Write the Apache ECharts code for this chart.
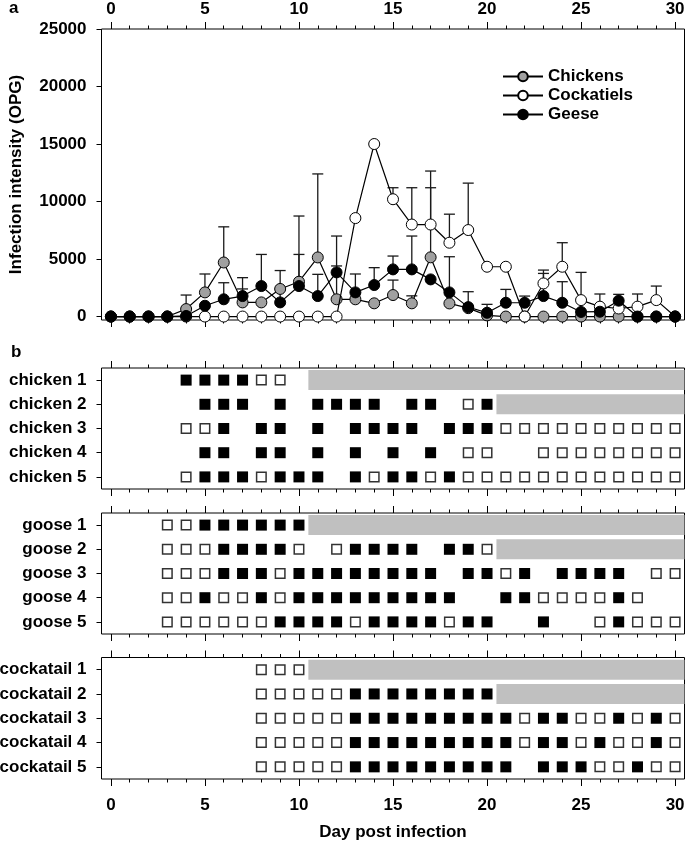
<!DOCTYPE html>
<html><head><meta charset="utf-8">
<script src="https://cdn.jsdelivr.net/npm/echarts@6/dist/echarts.min.js"></script>
<style>html,body{margin:0;padding:0;background:#fff}#c{width:685px;height:842px}</style>
</head><body><div id="c"></div>
<script>
// ---------------- DATA ----------------
const days = [0,1,2,3,4,5,6,7,8,9,10,11,12,13,14,15,16,17,18,19,20,21,22,23,24,25,26,27,28,29,30];
const xTickLabels = [0,5,10,15,20,25,30];
const yTickLabels = [0,5000,10000,15000,20000,25000];

// Panel a: mean OPG and upper error-bar end (null = no visible bar)
const chickenMean  = [0,0,0,0,650,2100,4700,1230,1230,2400,3030,5140,1500,1500,1150,1870,1150,5150,1140,730,100,0,0,0,0,0,0,0,0,0,0];
const chickenUpper = [null,null,null,null,1870,3700,7800,2400,null,4000,8740,12400,4400,null,null,3170,1800,11200,null,null,null,null,null,null,null,null,null,null,null,null,null];
const cockatielMean  = [0,0,0,0,0,0,0,0,0,0,0,0,0,8560,15000,10200,8000,8000,6420,7520,4330,4330,0,2880,4330,1430,860,700,860,1430,0];
const cockatielUpper = [null,null,null,null,null,null,null,null,null,null,null,null,null,null,null,11200,11200,12650,8900,11600,null,null,null,4040,6420,3840,1960,null,1960,2650,null];
const geeseMean  = [0,0,0,0,50,940,1500,1780,2650,1230,2650,1780,3840,2100,2740,4100,4100,3230,2100,820,330,1200,1200,1780,1200,400,420,1380,0,0,0];
const geeseUpper = [null,null,null,null,null,null,2940,3380,5400,2400,5400,3670,7000,3700,4250,5260,7000,null,5200,2160,1060,2360,1780,3750,3030,null,null,1930,null,null,null];

// Panel b: per animal, one character per day 0..30 ('P' positive, 'N' negative, '.' not sampled)
const chickenRows = ['chicken 1','chicken 2','chicken 3','chicken 4','chicken 5'];
const chickenShed = [
  '....PPPPNN.....................',
  '.....PPP.P.PPPP.PP.NP..........',
  '....NNP.PP.P.PPPP.PPPNNNNNNNNNN',
  '.....PP.PP.P.P.P.P.NN..NNNNNNNN',
  '....NPPPNPPP.PNPPNPNNNNNNNNNNNN'
];
const gooseRows = ['goose 1','goose 2','goose 3','goose 4','goose 5'];
const gooseShed = [
  '...NNPPPPPP....................',
  '...NNNPPPPN.NPPPP.PPN..........',
  '...NNNPPPNPPPPPPPP.PPNP.PPPP.NN',
  '...NNPNNPNPPPPPPPPP..PPNNNNPN..',
  '...NNNNNNPPPPNPPPPNPP..P..NPNNN'
];
const cockatailRows = ['cockatail 1','cockatail 2','cockatail 3','cockatail 4','cockatail 5'];
const cockatailShed = [
  '........NNN....................',
  '........NNNNNPPPPPPPP..........',
  '........NNNNNPPPPPPPPPNPPNNPNPN',
  '........NNNNNPPPPPPPPPNPPNPNNPN',
  '........NNNNNPPPPPPPPP.PPPNNPNN'
];
// start of grey "removed" bar per row (null = none)
const removedFrom = [10.5, 20.5, null, null, null];

// ---------------- LAYOUT / STYLE ----------------
const FONT = "'Liberation Sans', Arial, Helvetica, sans-serif";
const X_MIN = -0.5, X_MAX = 30.5;
const txt = {fontFamily: FONT, fontWeight: 'bold', fontSize: 17, color: '#000'};

const gridDefs = [
  {top: 29, height: 291},
  {top: 368, height: 121},
  {top: 513, height: 121},
  {top: 657.5, height: 121.5}
];
const grid = gridDefs.map(g => ({
  left: 101.5, right: 0.5, top: g.top, height: g.height,
  show: true, borderColor: '#000', borderWidth: 1, backgroundColor: 'transparent',
  containLabel: false, outerBoundsMode: 'none'
}));

const xAxis = [];
function addX(gi, position, major, label, extra) {
  const ax = Object.assign({
    type: 'value', gridIndex: gi, position: position, min: X_MIN, max: X_MAX,
    axisLine: {show: false, onZero: false},
    splitLine: {show: false},
    axisTick: {show: true, inside: false, length: major ? 7 : 3.5,
      customValues: major ? xTickLabels : days, lineStyle: {color: '#000', width: 1}},
    axisLabel: Object.assign({show: !!label, customValues: xTickLabels,
      margin: position === 'top' ? 11 : 18, formatter: v => String(v)}, txt)
  }, extra || {});
  xAxis.push(ax);
  return xAxis.length - 1;
}
const xIdx = [];
for (let g = 0; g < 4; g++) {
  const topLab = g === 0;
  const botLab = g === 3;
  const a = addX(g, 'bottom', true, botLab, botLab ? {
    name: 'Day post infection', nameLocation: 'middle', nameGap: 45, nameMoveOverlap: false, nameTextStyle: txt
  } : null);
  addX(g, 'bottom', false, false);
  addX(g, 'top', true, topLab);
  addX(g, 'top', false, false);
  xIdx.push(a);
}

const yAxis = [
  {type: 'value', gridIndex: 0, min: -300, max: 25000, position: 'left',
   axisLine: {show: false, onZero: false}, splitLine: {show: false},
   axisTick: {show: true, inside: false, length: 5, customValues: yTickLabels, lineStyle: {color: '#000'}},
   axisLabel: Object.assign({customValues: yTickLabels, margin: 15, formatter: v => String(v)}, txt),
   name: 'Infection intensity (OPG)', nameLocation: 'middle', nameGap: 77, nameMoveOverlap: false, nameTextStyle: txt}
];
[chickenRows, gooseRows, cockatailRows].forEach((rows, i) => {
  yAxis.push({type: 'category', gridIndex: i + 1, data: rows, inverse: true, position: 'left',
    axisLine: {show: false, onZero: false}, splitLine: {show: false},
    axisTick: {show: true, inside: false, alignWithLabel: true, length: 5, lineStyle: {color: '#000'}},
    axisLabel: Object.assign({margin: 15}, txt)});
});

// ---------------- SERIES ----------------
function errRender(params, api) {
  const x = api.value(0), m = api.value(1), u = api.value(2);
  const p0 = api.coord([x, m]), p1 = api.coord([x, u]);
  const hw = 5.5, st = {stroke: '#1a1a1a', lineWidth: 1.3};
  return {type: 'group', children: [
    {type: 'line', shape: {x1: p0[0], y1: p0[1], x2: p1[0], y2: p1[1]}, style: st},
    {type: 'line', shape: {x1: p1[0] - hw, y1: p1[1], x2: p1[0] + hw, y2: p1[1]}, style: st}
  ]};
}
function errData(mean, upper) {
  const out = [];
  days.forEach((d, i) => { if (upper[i] != null) out.push([d, mean[i], upper[i]]); });
  return out;
}
const series = [];
const groupsA = [
  {name: 'Chickens', mean: chickenMean, upper: chickenUpper, fill: '#a0a0a0'},
  {name: 'Cockatiels', mean: cockatielMean, upper: cockatielUpper, fill: '#ffffff'},
  {name: 'Geese', mean: geeseMean, upper: geeseUpper, fill: '#000000'}
];
groupsA.forEach((g, i) => {
  series.push({type: 'custom', name: g.name + ' SD', xAxisIndex: xIdx[0], yAxisIndex: 0,
    renderItem: errRender, encode: {x: 0, y: [1, 2]}, data: errData(g.mean, g.upper), z: 1, silent: true});
});
groupsA.forEach((g, i) => {
  series.push({type: 'line', name: g.name, xAxisIndex: xIdx[0], yAxisIndex: 0,
    data: days.map((d, k) => [d, g.mean[k]]),
    symbol: 'circle', symbolSize: 11, showAllSymbol: true,
    lineStyle: {color: '#000', width: 1.2},
    itemStyle: {color: g.fill, borderColor: '#000', borderWidth: 1, opacity: 1},
    emphasis: {disabled: true}, z: 3 + i, animation: false});
});

function barRender(params, api) {
  const s = api.value(0), r = api.value(1);
  const p0 = api.coord([s, r]), p1 = api.coord([X_MAX, r]);
  const h = 20;
  return {type: 'rect', shape: {x: p0[0], y: p0[1] - h / 2, width: p1[0] - p0[0], height: h},
    style: {fill: '#c0c0c0'}};
}
[chickenShed, gooseShed, cockatailShed].forEach((rows, gi) => {
  const pos = [], neg = [];
  rows.forEach((str, r) => {
    for (let d = 0; d < str.length; d++) {
      if (str[d] === 'P') pos.push([days[d], r]);
      else if (str[d] === 'N') neg.push([days[d], r]);
    }
  });
  const bars = [];
  removedFrom.forEach((v, r) => { if (v != null) bars.push([v, r]); });
  const xi = xIdx[gi + 1], yi = gi + 1;
  series.push({type: 'custom', xAxisIndex: xi, yAxisIndex: yi, renderItem: barRender,
    encode: {x: 0, y: 1}, data: bars, z: 1, silent: true});
  series.push({type: 'scatter', xAxisIndex: xi, yAxisIndex: yi, data: pos, symbol: 'rect',
    symbolSize: 11, itemStyle: {color: '#000', opacity: 1}, z: 2, silent: true});
  series.push({type: 'scatter', xAxisIndex: xi, yAxisIndex: yi, data: neg, symbol: 'rect',
    symbolSize: 9.5, itemStyle: {color: '#fff', borderColor: '#333', borderWidth: 1.5, opacity: 1}, z: 2, silent: true});
});

const chart = echarts.init(document.getElementById('c'), null, {renderer: 'canvas'});
chart.setOption({
  animation: false,
  backgroundColor: '#fff',
  textStyle: {fontFamily: FONT},
  grid: grid,
  xAxis: xAxis,
  yAxis: yAxis,
  legend: {
    data: ['Chickens', 'Cockatiels', 'Geese'], orient: 'vertical', left: 497, top: 63,
    itemWidth: 40, itemHeight: 12, itemGap: 2, selectedMode: false,
    textStyle: txt
  },
  graphic: [
    {type: 'text', left: 9, top: 0, style: {text: 'a', font: 'bold 17px ' + FONT, fill: '#000'}},
    {type: 'text', left: 11, top: 344, style: {text: 'b', font: 'bold 17px ' + FONT, fill: '#000'}}
  ],
  series: series
});
</script></body></html>
